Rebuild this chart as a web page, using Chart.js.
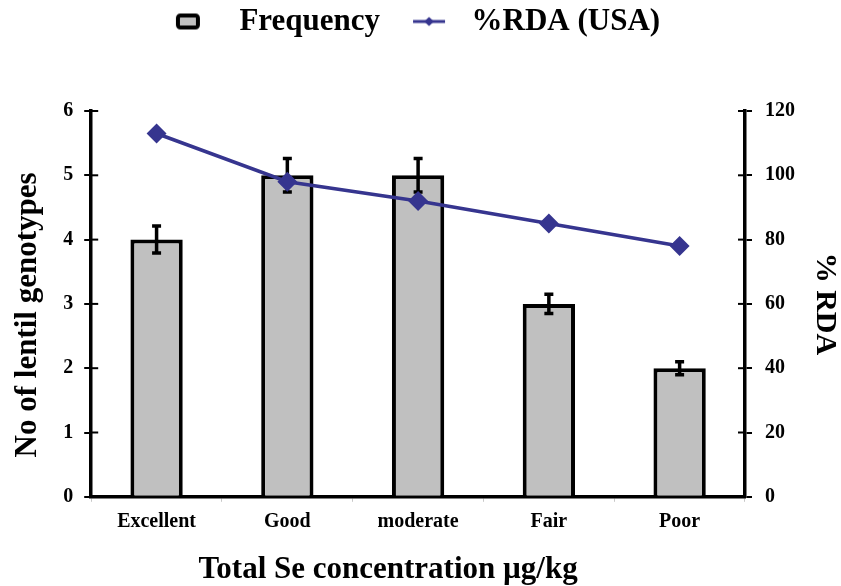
<!DOCTYPE html>
<html><head><meta charset="utf-8">
<script src="https://cdn.jsdelivr.net/npm/chart.js@4.4.0/dist/chart.umd.min.js"></script>
<style>html,body{margin:0;padding:0;background:#fff;}#wrap{width:841px;height:586px;}</style>
</head><body><div id="wrap"><canvas id="c"></canvas></div>
<script>
const categories = ['Excellent', 'Good', 'moderate', 'Fair', 'Poor'];
const frequency = [4, 5, 5, 3, 2];
const frequencyError = [0.21, 0.26, 0.26, 0.15, 0.1];
const rdaPercent = [113, 98, 92, 85, 78];

const serif = "'Liberation Serif', 'Times New Roman', serif";
const BLUE = '#36358f';

function makeIcon(kind){
  const cv = document.createElement('canvas');
  cv.width = 70; cv.height = 20;
  const g = cv.getContext('2d');
  if (kind === 'bar') {
    g.fillStyle = '#c0c0c0'; g.strokeStyle = '#000'; g.lineWidth = 4;
    g.beginPath(); g.roundRect(24, 4, 20, 12, 2.5); g.fill(); g.stroke();
  } else {
    g.strokeStyle = BLUE; g.lineWidth = 3;
    g.beginPath(); g.moveTo(27, 10); g.lineTo(59, 10); g.stroke();
    g.fillStyle = BLUE; g.beginPath();
    g.moveTo(43, 5.5); g.lineTo(48, 10); g.lineTo(43, 14.5); g.lineTo(38, 10); g.closePath(); g.fill();
  }
  return cv;
}
const iconBar = makeIcon('bar'), iconLine = makeIcon('line');

const errorBars = {
  id: 'errorBars',
  afterDatasetDraw(chart, args) {
    if (args.index !== 0) return;
    const ctx = chart.ctx, meta = args.meta, y = chart.scales.y;
    ctx.save();
    ctx.strokeStyle = '#000'; ctx.lineWidth = 3.5;
    meta.data.forEach((bar, i) => {
      const x = bar.x;
      const top = y.getPixelForValue(frequency[i] + frequencyError[i]);
      const bot = y.getPixelForValue(frequency[i] - frequencyError[i]);
      ctx.beginPath();
      ctx.moveTo(x, top); ctx.lineTo(x, bot);
      ctx.moveTo(x - 4.5, top); ctx.lineTo(x + 4.5, top);
      ctx.moveTo(x - 4.5, bot); ctx.lineTo(x + 4.5, bot);
      ctx.stroke();
    });
    ctx.restore();
  }
};

// tick marks that cross the y axes (inner half)
const innerTicks = {
  id: 'innerTicks',
  afterDraw(chart) {
    const ctx = chart.ctx;
    ctx.save();
    ctx.strokeStyle = '#000'; ctx.lineWidth = 2;
    ['y', 'y2'].forEach(id => {
      const s = chart.scales[id];
      const x0 = id === 'y' ? s.right : s.left;
      const dir = id === 'y' ? 1 : -1;
      s.ticks.forEach((t, i) => {
        const py = s.getPixelForTick(i);
        ctx.beginPath(); ctx.moveTo(x0, py); ctx.lineTo(x0 + dir * 7, py); ctx.stroke();
      });
    });
    ctx.restore();
  }
};

const legendTweak = {
  id: 'legendTweak',
  beforeInit(chart) {
    const lg = chart.legend;
    const origFit = lg.fit;
    lg.fit = function () { origFit.call(this); this.height += 64; };
    const origDraw = lg.draw;
    lg.draw = function (...a) {
      const c = this.ctx; c.save(); c.translate(-18, 0); origDraw.apply(this, a); c.restore();
    };
  }
};

// the reference places its axis titles a little off centre
const titleShift = {
  id: 'titleShift',
  beforeDraw(chart) {
    const shifts = { x: [-30, 3], y: [0, 11] };
    Object.keys(shifts).forEach(id => {
      const s = chart.scales[id];
      if (!s || s._shifted) return;
      const o = s.drawTitle;
      s.drawTitle = function (...a) {
        const c = this.ctx; c.save(); c.translate(shifts[id][0], shifts[id][1]); o.apply(this, a); c.restore();
      };
      s._shifted = true;
    });
  }
};

new Chart(document.getElementById('c'), {
  data: {
    labels: categories,
    datasets: [
      { type: 'bar', label: 'Frequency', data: frequency, yAxisID: 'y', order: 2,
        backgroundColor: '#c0c0c0', borderColor: '#000', borderWidth: 4,
        barPercentage: 0.8, categoryPercentage: 0.5 },
      { type: 'line', label: '%RDA (USA)', data: rdaPercent, yAxisID: 'y2', order: 1,
        borderColor: BLUE, backgroundColor: BLUE, borderWidth: 3.5,
        pointStyle: 'rectRot', pointRadius: 7.5, pointHoverRadius: 7.5, tension: 0 }
    ]
  },
  options: {
    responsive: true, maintainAspectRatio: false, animation: false,
    layout: { padding: { top: 0, left: 9, right: 0, bottom: 0 } },
    plugins: {
      tooltip: { enabled: false },
      legend: {
        position: 'top',
        labels: {
          usePointStyle: true, pointStyleWidth: 70, boxHeight: 20, padding: 6,
          color: '#000', font: { family: serif, size: 31, weight: 'bold' },
          generateLabels: () => [
            { text: 'Frequency', pointStyle: iconBar, fillStyle: '#c0c0c0', strokeStyle: '#000', lineWidth: 0, datasetIndex: 0 },
            { text: '%RDA (USA)', pointStyle: iconLine, fillStyle: BLUE, strokeStyle: BLUE, lineWidth: 0, datasetIndex: 1 }
          ]
        }
      }
    },
    scales: {
      x: {
        grid: { display: true, drawOnChartArea: false, offset: true, tickLength: 5, color: '#c8c8c8', lineWidth: 1 },
        border: { color: '#000', width: 3.5 },
        ticks: { color: '#000', font: { family: serif, size: 20, weight: 'bold' }, padding: 8 },
        title: { display: true, text: 'Total Se concentration µg/kg', color: '#000',
                 font: { family: serif, size: 31, weight: 'bold' }, padding: { top: 7, bottom: 0 } }
      },
      y: {
        position: 'left', min: 0, max: 6,
        grid: { drawOnChartArea: false, tickLength: 7, color: '#000', lineWidth: 2 },
        border: { color: '#000', width: 3.5 },
        ticks: { stepSize: 1, color: '#000', font: { family: serif, size: 20, weight: 'bold' }, padding: 11 },
        title: { display: true, text: 'No of lentil genotypes', color: '#000',
                 font: { family: serif, size: 31, weight: 'bold' }, padding: { top: 0, bottom: 6 } }
      },
      y2: {
        position: 'right', min: 0, max: 120,
        grid: { drawOnChartArea: false, tickLength: 7, color: '#000', lineWidth: 2 },
        border: { color: '#000', width: 3.5 },
        ticks: { stepSize: 20, color: '#000', font: { family: serif, size: 20, weight: 'bold' }, padding: 13 },
        title: { display: true, text: '% RDA', color: '#000',
                 font: { family: serif, size: 30, weight: 'bold', lineHeight: 1.1 }, padding: { top: 0, bottom: 0 } }
      }
    }
  },
  plugins: [errorBars, innerTicks, legendTweak, titleShift]
});
</script></body></html>
